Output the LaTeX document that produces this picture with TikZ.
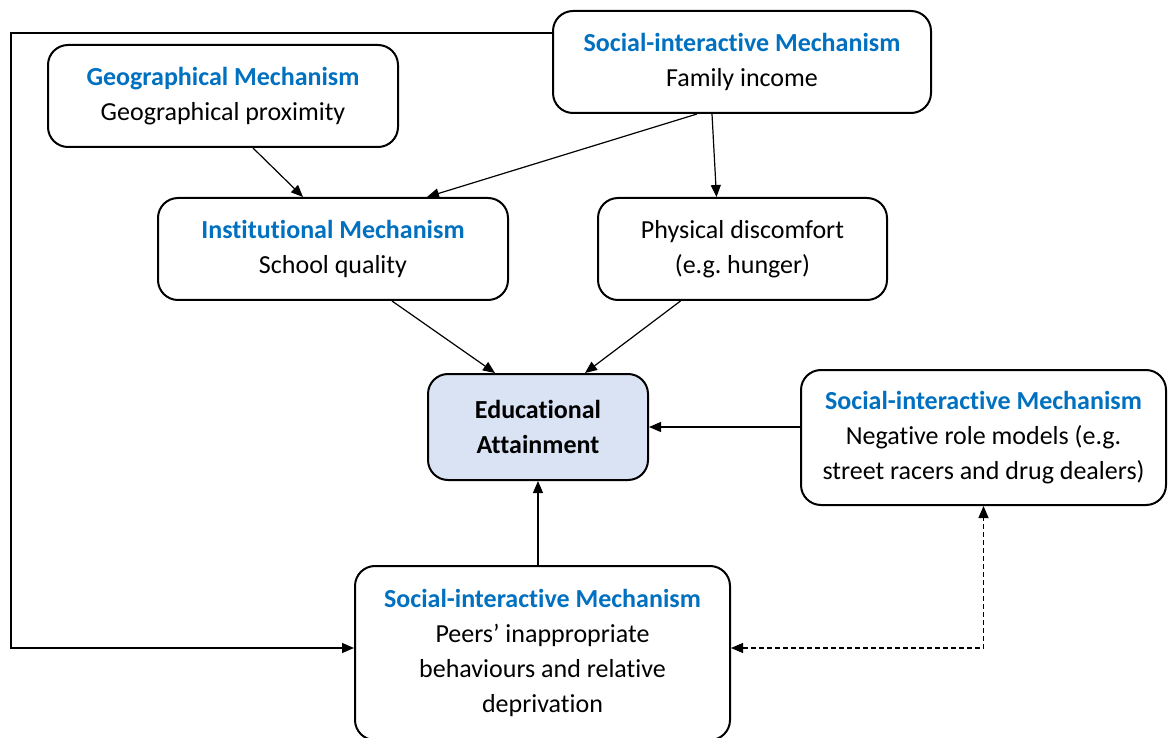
\documentclass[tikz,border=0pt]{standalone}
\usepackage{fontspec}
\setmainfont{Carlito}[Ligatures=NoCommon]
\usetikzlibrary{arrows.meta}
\definecolor{mechblue}{HTML}{0070C0}
\definecolor{goalfill}{HTML}{DAE3F3}
\newcommand{\mech}[1]{{\bfseries\color{mechblue}#1}}
\frenchspacing

\begin{document}
\begin{tikzpicture}[x=1pt,y=-1pt,
  box/.style={draw=black, line width=2pt, rounded corners=20pt, fill=white,
    inner sep=0pt, align=center, font=\fontsize{26}{35}\selectfont},
  goal/.style={box, fill=goalfill, font=\fontsize{26}{35}\selectfont\bfseries},
  tip/.style={-{Triangle[length=12pt,width=10pt]}},
  link/.style={line width=1.2pt, tip},
  dlink/.style={line width=1.2pt, dash pattern=on 5pt off 3pt,
    {Triangle[length=12pt,width=10pt]}-{Triangle[length=12pt,width=10pt]}}]
\useasboundingbox (0,0) rectangle (1168,738);

% mechanism boxes
\node[box, minimum width=350pt, minimum height=102pt] (geo) at (223,96)
  {\mech{Geographical Mechanism}\\Geographical proximity};
\node[box, minimum width=378pt, minimum height=102pt] (soc) at (742,62)
  {\mech{Social-interactive Mechanism}\\Family income};
\node[box, minimum width=350pt, minimum height=102pt] (inst) at (333,249)
  {\mech{Institutional Mechanism}\\School quality};
\node[box, minimum width=289pt, minimum height=102pt] (phys) at (742.5,249)
  {Physical discomfort\\(e.g. hunger)};
\node[goal, minimum width=220pt, minimum height=106pt] (ea) at (538,427)
  {Educational\\Attainment};
\node[box, minimum width=365pt, minimum height=135pt] (neg) at (983.5,437.5)
  {\mech{Social-interactive Mechanism}\\Negative role models (e.g.\\street racers and drug dealers)};
\node[box, minimum width=375pt, minimum height=174pt] (peers) at (542.5,653)
  {\mech{Social-interactive Mechanism}\\Peers’ inappropriate\\behaviours and relative\\deprivation};

% loop on the left edge
\coordinate (loopTop) at (11,33);
\coordinate (loopBot) at (11,648);

% connectors
\draw[link] ([yshift=29pt]soc.west) -- (loopTop) -- (loopBot) -- (peers.west |- loopBot);
\draw[link] ([xshift=30pt]geo.south) -- ([xshift=-30pt]inst.north);
\draw[link] ([xshift=-45pt]soc.south) -- ([xshift=94pt]inst.north);
\draw[link] ([xshift=-30pt]soc.south) -- ([xshift=-26pt]phys.north);
\draw[link] ([xshift=59pt]inst.south) -- ([xshift=-43pt]ea.north);
\draw[link] ([xshift=-62pt]phys.south) -- ([xshift=47pt]ea.north);
\draw[link] (neg.west |- ea.east) -- (ea.east);
\draw[link] (ea.south |- peers.north) -- (ea.south);
\draw[dlink] (peers.east |- loopBot) -- (loopBot -| neg.south) -- (neg.south);
\end{tikzpicture}
\end{document}
